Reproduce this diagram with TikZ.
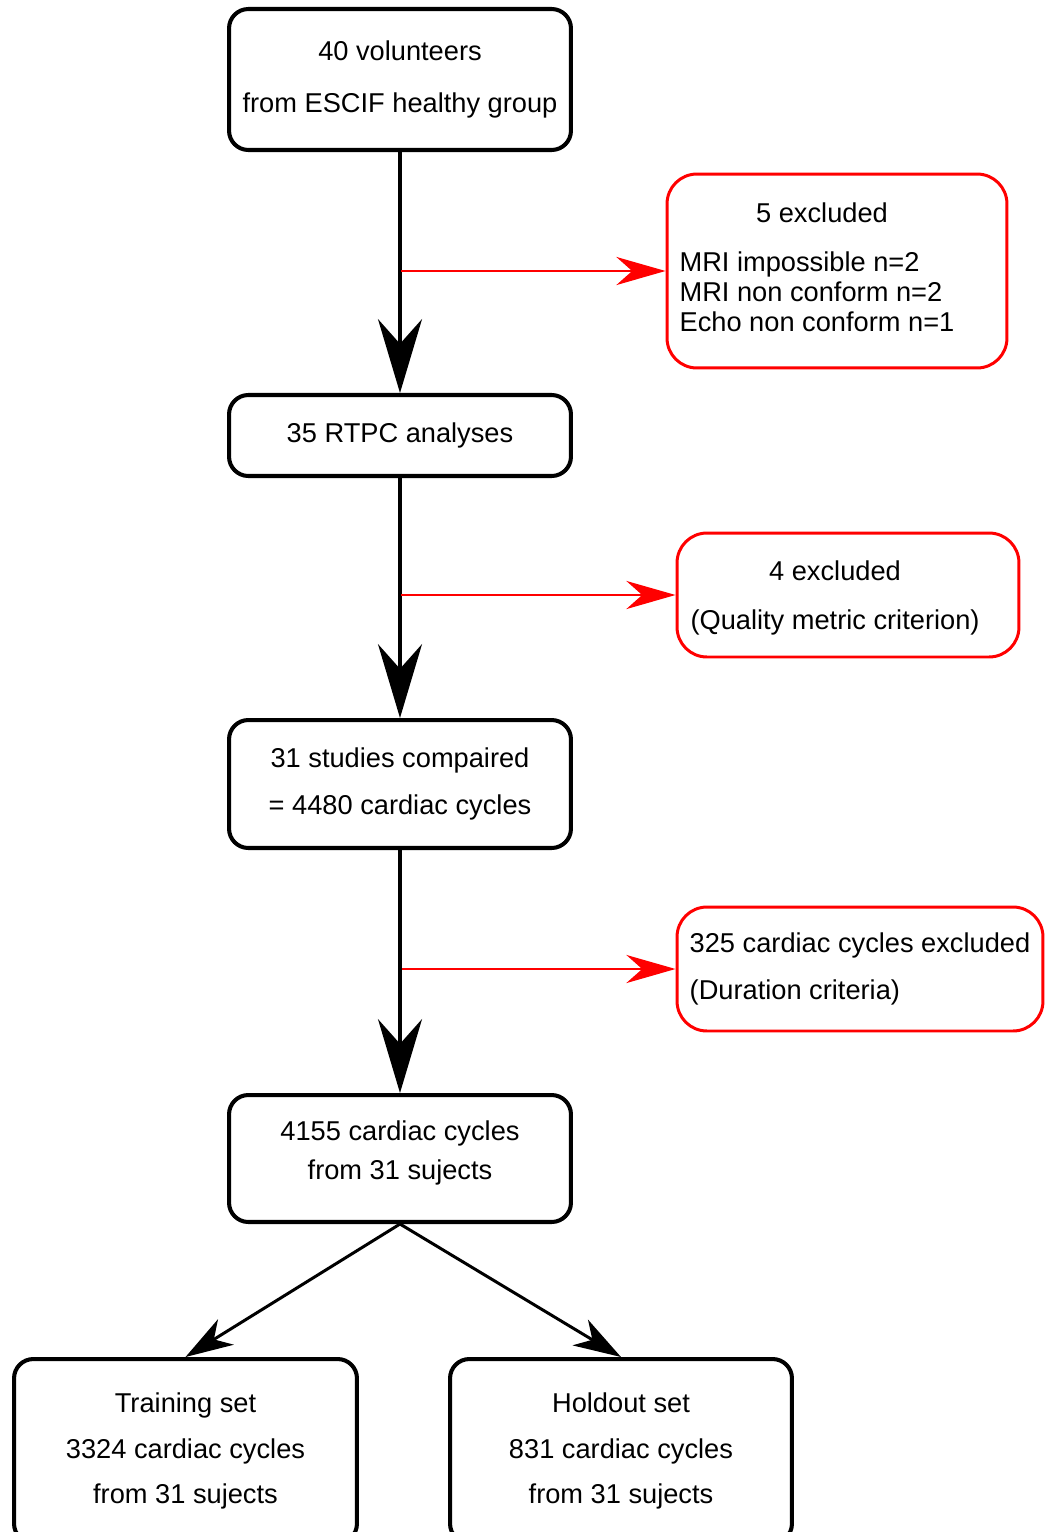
\documentclass[tikz,border=0pt]{standalone}
\usepackage{fontspec}
\setmainfont{Liberation Sans}
\usetikzlibrary{arrows.meta}

\tikzset{
  lines/.style={font=\fontsize{15.5pt}{#1}\selectfont},
  flowbox/.style={draw, line width=2.3pt, rounded corners=11pt, inner sep=0pt,
    align=center, minimum width=6.84cm},
  exclbox/.style={draw=red, line width=1.7pt, rounded corners=17pt, inner sep=0pt,
    minimum height=2.48cm},
  mainarrow/.style={line width=2.3pt, -{Stealth[length=42pt, width=25pt, inset=14pt]}},
  exclarrow/.style={red, line width=1.2pt, -{Stealth[length=28pt, width=16pt, inset=9pt]}},
  splitarrow/.style={line width=1.7pt, -{Stealth[length=27pt, width=17pt, inset=8pt]}}
}

\begin{document}
\begin{tikzpicture}[x=0.02cm, y=-0.02cm]
    \useasboundingbox (0,0) rectangle (1050,1532);
    \clip (0,0) rectangle (1050,1532);

    % main column
    \node[flowbox, lines=30pt, minimum height=2.82cm] (top) at (400,79.5)
        {40 volunteers\\from ESCIF healthy group};
    \node[flowbox, lines=20pt, minimum height=1.62cm] (rtpc) at (400,435.5)
        {35 RTPC analyses};
    \node[flowbox, lines=27.2pt, minimum height=2.56cm] (studies) at (400,784)
        {31 studies compaired\\= 4480 cardiac cycles};
    \node[flowbox, lines=22.1pt, minimum height=2.54cm] (sub) at (400,1158.5)
        {\raisebox{3.4pt}[\height][\depth]{\begin{tabular}{@{}c@{}}4155 cardiac cycles\\from 31 sujects\end{tabular}}};

    % split
    \node[flowbox, lines=26.1pt, minimum height=3.68cm, minimum width=6.86cm] (train) at (185.5,1451)
        {Training set\\3324 cardiac cycles\\from 31 sujects};
    \node[flowbox, lines=26.1pt, minimum height=3.68cm] (hold) at (621,1451)
        {Holdout set\\831 cardiac cycles\\from 31 sujects};

    % exclusions
    \node[exclbox, lines=17pt, minimum width=6.80cm, minimum height=3.88cm] (excl1) at (837,271)
        {\begin{tabular}{@{}l@{}}\multicolumn{1}{@{}c@{}}{\hspace{0.2cm}5 excluded}\\[11.3pt]
         MRI impossible n=2\\MRI non conform n=2\\Echo non conform n=1\end{tabular}\hspace*{0.8cm}};
    \node[exclbox, lines=28.3pt, minimum width=6.84cm] (excl2) at (848,595)
        {\begin{tabular}{@{}c@{}}4 excluded\\(Quality metric criterion)\end{tabular}\hspace*{0.52cm}};
    \node[exclbox, lines=27.2pt, align=left, minimum width=7.32cm] (excl3) at (860,969)
        {325 cardiac cycles excluded\\(Duration criteria)};

    \coordinate (j1) at (401,271);
    \coordinate (j2) at (401,595);
    \coordinate (j3) at (402,969);

    % connectors
    \draw[mainarrow] (top) -- (rtpc);
    \draw[mainarrow] (rtpc) -- (studies);
    \draw[mainarrow] (studies) -- (sub);
    \draw[exclarrow] (j1) -- (j1 -| excl1.west);
    \draw[exclarrow] (j2) -- (j2 -| excl2.west);
    \draw[exclarrow] (j3) -- (j3 -| excl3.west);
    \draw[splitarrow] (sub.south) -- (train.north);
    \draw[splitarrow] (sub.south) -- (hold.north);
\end{tikzpicture}
\end{document}
